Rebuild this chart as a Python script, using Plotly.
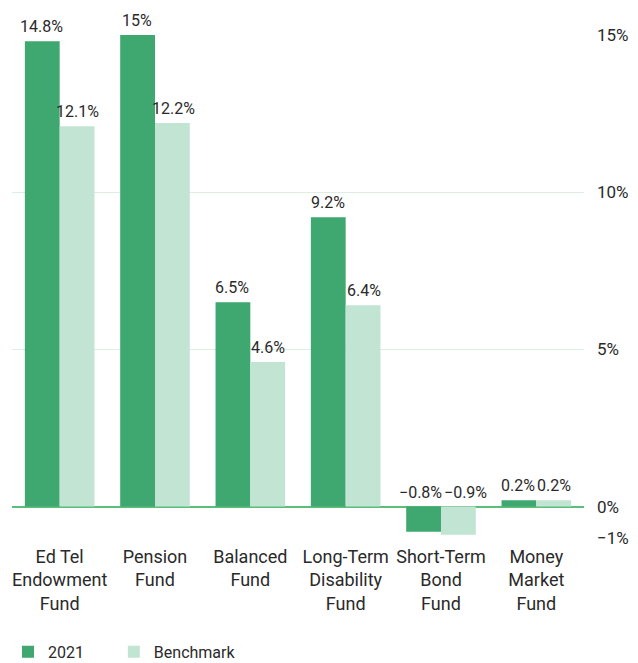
import plotly.graph_objects as go

categories = ["Ed Tel<br>Endowment<br>Fund", "Pension<br>Fund", "Balanced<br>Fund",
              "Long-Term<br>Disability<br>Fund", "Short-Term<br>Bond<br>Fund", "Money<br>Market<br>Fund"]
values_2021 = [14.8, 15.0, 6.5, 9.2, -0.8, 0.2]
values_bench = [12.1, 12.2, 4.6, 6.4, -0.9, 0.2]
labels_2021 = ["14.8%", "15%", "6.5%", "9.2%", "−0.8%", "0.2%"]
labels_bench = ["12.1%", "12.2%", "4.6%", "6.4%", "−0.9%", "0.2%"]
tick_vals = [-1, 0, 5, 10, 15]
tick_text = ["−1%", "0%", "5%", "10%", "15%"]

FONT = "Roboto, sans-serif"
C1 = "#3ea870"
C2 = "#c2e4d2"
TXT = "#2a2a2a"

fig = go.Figure()
fig.add_trace(go.Bar(x=categories, y=values_2021, name="2021", marker_color=C1,
                     marker_line_width=0, hoverinfo="skip", legend="legend"))
fig.add_trace(go.Bar(x=categories, y=values_bench, name="Benchmark", marker_color=C2,
                     marker_line_width=0, hoverinfo="skip", legend="legend2"))

for cat, v, t in zip(categories, values_2021, labels_2021):
    fig.add_annotation(x=cat, y=max(v, 0), text=t, xshift=-21 if v < 0 else -18,
                       yshift=3, yanchor="bottom",
                       showarrow=False, font=dict(family=FONT, size=16, color=TXT))
for cat, v, t in zip(categories, values_bench, labels_bench):
    fig.add_annotation(x=cat, y=max(v, 0), text=t, xshift=24 if v < 0 else 18,
                       yshift=3, yanchor="bottom",
                       showarrow=False, font=dict(family=FONT, size=16, color=TXT))

legend_common = dict(orientation="h", xref="container", yref="container",
                     xanchor="left", y=0.017, yanchor="middle",
                     font=dict(size=16, color=TXT), itemwidth=30)

fig.update_layout(
    width=630, height=655,
    margin=dict(l=4, r=54, t=27, b=125, autoexpand=False),
    plot_bgcolor="white", paper_bgcolor="white",
    barmode="group", bargap=0.27, bargroupgap=0,
    font=dict(family=FONT, size=18, color=TXT),
    showlegend=True,
    legend=dict(x=0.0, **legend_common),
    legend2=dict(x=0.168, **legend_common),
    xaxis=dict(showgrid=False, showline=False, ticks="", tickfont=dict(size=18),
               tickangle=0, automargin=False, ticklabelstandoff=6),
    yaxis=dict(side="right", range=[-1, 15], tickvals=tick_vals, ticktext=tick_text,
               showgrid=True, gridcolor="#dcefe2", gridwidth=1,
               zeroline=True, zerolinecolor="#5bbf7a", zerolinewidth=1.5,
               showline=False, ticks="", tickfont=dict(size=17), ticklabelstandoff=12,
               automargin=False),
)

fig.write_html("out.html")
